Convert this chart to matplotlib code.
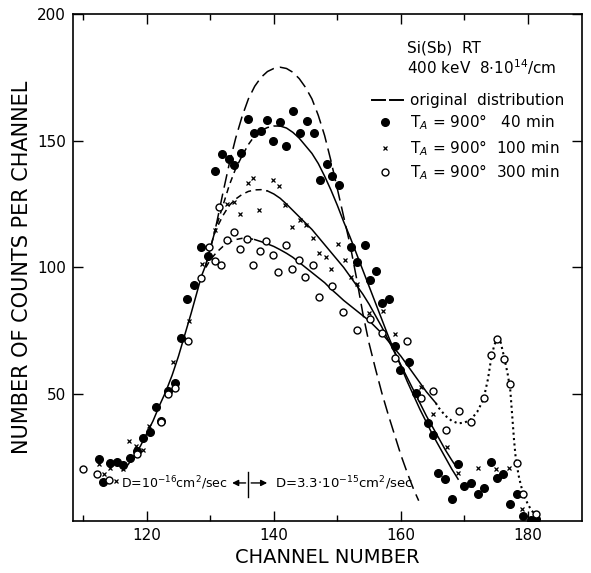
import numpy as np
import matplotlib
matplotlib.use("Agg")
import matplotlib.pyplot as plt

# measured points, T_A = 900 deg, 40 min (filled circles)
ch_40 = [112.5, 113.2, 114.3, 115.3, 116.3, 117.4, 118.4, 119.4, 120.5, 121.5, 122.3, 123.3, 124.4,
         125.4, 126.3, 127.5, 128.6, 129.6, 130.8, 131.9, 132.9, 133.8, 134.8, 135.9, 136.9, 138.0,
         138.9, 139.8, 141.0, 141.9, 143.0, 144.2, 145.3, 146.3, 147.2, 148.4, 149.2, 150.3, 152.1,
         153.1, 154.3, 155.1, 156.1, 157.1, 158.1, 159.1, 159.9, 161.2, 162.4, 164.2, 165.0, 165.9,
         167.0, 168.0, 169.0, 170.0, 171.0, 172.1, 173.0, 174.2, 175.1, 176.1, 177.1, 178.2, 179.2,
         180.4, 181.3]
n_40 = [24.4, 15.5, 23.0, 23.4, 22.1, 25.0, 27.7, 32.7, 35.0, 44.8, 39.5, 51.4, 54.4,
        72.0, 87.6, 92.9, 108.0, 104.7, 137.9, 144.9, 142.7, 140.3, 145.2, 158.5, 153.2, 153.8,
        158.1, 149.9, 157.2, 147.8, 161.7, 153.2, 157.8, 153.1, 134.7, 141.0, 136.0, 132.4, 108.0,
        102.1, 109.0, 95.1, 98.5, 85.9, 87.6, 69.2, 59.6, 62.6, 50.3, 38.5, 34.0, 19.1,
        16.5, 8.6, 22.6, 13.8, 15.1, 10.5, 12.9, 23.4, 17.1, 18.5, 6.6, 10.8, 2.0,
        0.3, 0.7]

# 100 min (crosses)
ch_100 = [112.5, 113.3, 114.3, 115.1, 116.3, 117.2, 118.3, 119.4, 120.4, 124.2, 126.6, 128.7,
          130.7, 132.7, 133.8, 134.7, 135.9, 136.8, 137.7, 139.9, 140.8, 141.8, 142.9, 144.1,
          145.1, 146.2, 147.1, 148.2, 149.0, 150.1, 151.2, 152.2, 153.1, 155.0, 157.2, 159.1,
          163.1, 165.1, 167.2, 169.0, 171.0, 172.1, 175.0, 177.0, 179.0]
n_100 = [22.5, 18.4, 21.0, 15.8, 20.5, 31.6, 29.4, 28.0, 37.5, 62.8, 79.0, 101.4,
         114.6, 125.2, 125.8, 121.2, 133.3, 135.4, 122.5, 134.7, 132.0, 124.5, 115.9, 118.6,
         116.6, 111.7, 105.7, 104.1, 99.5, 109.4, 103.0, 96.2, 93.5, 82.0, 82.7, 73.8,
         52.7, 42.2, 29.2, 19.1, 14.0, 21.0, 20.4, 20.9, 4.8]

# 300 min (open circles)
ch_300 = [110.0, 112.2, 114.1, 118.4, 122.3, 123.3, 124.4, 126.5, 128.6, 129.8, 130.7, 131.3,
          131.7, 132.6, 133.8, 134.7, 135.8, 136.8, 137.9, 138.8, 139.8, 140.7, 141.9, 142.8,
          143.9, 144.9, 146.2, 147.1, 149.1, 150.9, 153.1, 155.1, 157.0, 159.1, 161.0, 163.2,
          165.1, 167.1, 169.1, 171.1, 173.1, 174.2, 175.2, 176.3, 177.2, 178.2, 179.2, 181.2]
n_300 = [20.4, 18.7, 16.2, 26.6, 38.9, 50.0, 52.4, 70.9, 95.8, 108.0, 102.5, 123.8,
         100.8, 110.9, 114.0, 107.4, 111.3, 100.8, 106.4, 110.3, 105.1, 98.2, 108.7, 99.5,
         103.0, 96.2, 100.8, 88.3, 92.6, 82.3, 75.5, 79.7, 74.0, 64.3, 70.9, 48.7,
         51.1, 35.8, 43.5, 39.1, 48.5, 65.6, 71.8, 63.9, 54.0, 23.0, 10.8, 2.9]

# drawn curves
ch_rise = [116.2, 117, 118, 119, 120, 121, 122, 123, 124, 125, 126, 127, 128, 128.6, 129.3]
n_rise = [20, 22, 25.5, 29.5, 34.5, 39.5, 45.5, 51, 57.5, 65, 73.5, 82, 91, 96.5, 101]

ch_orig = [129.3, 130, 130.6, 131, 132, 133, 134, 135, 136, 137, 138, 139, 140, 141, 142, 143,
           144, 145, 146, 147, 148, 149, 150, 151, 152, 153, 154, 155, 156, 157, 158, 159, 160,
           161, 162, 162.8]
n_orig = [101, 107.5, 113, 117.5, 129.5, 141, 151, 159.5, 166.5, 171.5, 175, 177.3, 178.5, 179,
          178.5, 177, 174.5, 171, 166.5, 160, 152, 142, 131, 120, 109, 96, 82, 70, 60, 50.5, 42,
          34, 26, 19, 12.5, 8]

ch_fit40_d = [129.3, 130, 130.6, 131, 132, 133, 134, 135, 136, 137, 138, 139, 140, 141]
n_fit40_d = [101, 107.5, 113, 116.5, 124.5, 132.5, 139, 144, 148.5, 152, 154, 155.2, 155.8, 155.8]
ch_fit40 = [141, 142, 143, 144, 145, 146, 147, 148, 149, 150, 151, 152, 153, 154, 155, 156, 157,
            158, 159, 160, 161, 162, 163, 164, 165, 166, 167, 168, 169]
n_fit40 = [155.8, 155, 153.3, 151, 148, 145, 141, 136, 130.5, 124.5, 118, 112, 105.5, 99, 92.5,
           86, 79.5, 73, 67, 61, 55, 49.5, 44, 39, 34, 29.5, 25, 20.5, 16.5]

ch_fit100_d = [130.6, 131, 132, 133, 134, 135, 136, 137, 138, 139]
n_fit100_d = [113, 115.5, 120.5, 124.5, 127, 128.8, 130, 130.6, 130.7, 130.2]
ch_fit100 = [139, 140, 141, 142, 143, 144, 145, 146, 147, 148, 149, 150, 151, 152, 153, 154, 155,
             156, 157, 158, 159, 160, 161, 162, 163, 164, 165, 166, 167, 168, 168.8]
n_fit100 = [130.2, 129, 127.3, 125, 122.5, 120, 117.5, 115, 112, 109, 106, 103, 100, 96.5, 93,
            89.5, 85.5, 81, 76.5, 71.5, 66.5, 61.5, 56.5, 51.5, 46.5, 41.5, 37, 32.5, 28, 24, 21]

ch_fit300_d = [129.3, 130, 131, 132, 133, 134, 135, 136, 137]
n_fit300_d = [100, 103, 106, 108.3, 110, 111, 111.5, 111.5, 111]
ch_fit300 = [137, 138, 139, 140, 141, 142, 143, 144, 145, 146, 147, 148, 149, 150, 151, 152, 153,
             154, 155, 156, 157, 158, 159, 160, 161, 162, 163, 164, 165, 165.5]
n_fit300 = [111, 110.2, 109.3, 108.3, 107, 105.6, 104, 102, 100, 98, 96, 94, 91.5, 89.3, 87, 85,
            83, 81, 79, 76.5, 74, 71, 68, 65, 61.5, 58, 54.5, 51, 48, 46.5]

ch_dot = [165.5, 166, 167, 168, 169, 170, 171, 172, 173, 173.7, 174.2, 174.7, 175.2, 175.7, 176.3,
          176.8, 177.2, 177.5, 177.8, 178.1, 178.6, 179.2, 180, 180.6, 181.2]
n_dot = [46.5, 44.5, 41.5, 39.5, 38.5, 38.8, 40, 43, 48, 56, 64, 69.5, 72, 70.5, 64,
         58, 52, 42, 32, 24, 17, 11, 6.5, 4, 2.5]

fig = plt.figure(figsize=(5.91, 5.73), dpi=100)
ax = fig.add_axes([0.1235, 0.0908, 0.8613, 0.8848])

lw = 1.1
ax.plot(ch_rise, n_rise, color="black", lw=lw)
ax.plot(ch_orig, n_orig, color="black", lw=lw, dashes=(9, 4))
ax.plot(ch_fit40_d, n_fit40_d, color="black", lw=lw, dashes=(4, 3))
ax.plot(ch_fit40, n_fit40, color="black", lw=lw)
ax.plot(ch_fit100_d, n_fit100_d, color="black", lw=lw, dashes=(4, 3))
ax.plot(ch_fit100, n_fit100, color="black", lw=lw)
ax.plot(ch_fit300_d, n_fit300_d, color="black", lw=lw, dashes=(4, 3))
ax.plot(ch_fit300, n_fit300, color="black", lw=lw)
ax.plot(ch_dot, n_dot, color="black", lw=1.5, ls=(0, (1, 1.6)))

ax.plot(ch_40, n_40, "o", color="black", ms=5.5, ls="none")
ax.plot(ch_100, n_100, "x", color="black", ms=3.5, mew=0.9, ls="none")
ax.plot(ch_300, n_300, "o", mfc="white", mec="black", ms=5, mew=1, ls="none")

ax.set_xlim(108.4, 188.5)
ax.set_ylim(0, 200)
ax.set_xticks([120, 140, 160, 180])
ax.set_xticks([110, 130, 150, 170], minor=True)
ax.set_yticks([50, 100, 150, 200])
ax.tick_params(direction="in", top=True, right=True, length=7, width=1, labelsize=11, pad=5)
ax.tick_params(which="minor", direction="in", top=True, length=4, width=1)
for s in ax.spines.values():
    s.set_linewidth(1.2)

ax.set_xlabel("CHANNEL NUMBER", fontsize=14, labelpad=4)
ax.set_ylabel("NUMBER OF COUNTS PER CHANNEL", fontsize=15)
ax.yaxis.set_label_coords(-0.08, 0.5)

# text block upper right
ax.text(161, 186.5, "Si(Sb)  RT", fontsize=11, va="center")
ax.text(161, 179, r"400 keV  8$\cdot$10$^{14}$/cm", fontsize=11, va="center")
ax.plot([155.5, 157.5], [166, 166], color="black", lw=1.4)
ax.plot([158.3, 160.4], [166, 166], color="black", lw=1.4)
ax.text(161.5, 166, "original  distribution", fontsize=11, va="center")
ax.plot([157.5], [157.5], "o", color="black", ms=5.5)
ax.text(161.5, 157.5, r"T$_A$ = 900°   40 min", fontsize=11, va="center")
ax.plot([157.5], [147], "x", color="black", ms=3.5, mew=0.9)
ax.text(161.5, 147, r"T$_A$ = 900°  100 min", fontsize=11, va="center")
ax.plot([157.5], [137.7], "o", mfc="white", mec="black", ms=5, mew=1)
ax.text(161.5, 137.7, r"T$_A$ = 900°  300 min", fontsize=11, va="center")

# diffusion annotation
ax.plot([136, 136], [9.5, 19.5], color="black", lw=1)
ax.annotate("", xy=(133, 15), xytext=(136, 15),
            arrowprops=dict(arrowstyle="-|>", color="black", lw=1, mutation_scale=9))
ax.annotate("", xy=(139.4, 15), xytext=(136, 15),
            arrowprops=dict(arrowstyle="-|>", color="black", lw=1, mutation_scale=9))
ax.text(132.7, 15, r"D=10$^{-16}$cm$^2$/sec", fontsize=9, ha="right", va="center")
ax.text(140.2, 15, r"D=3.3$\cdot$10$^{-15}$cm$^2$/sec", fontsize=9.5, ha="left", va="center")

fig.savefig("out.png", dpi=100)
